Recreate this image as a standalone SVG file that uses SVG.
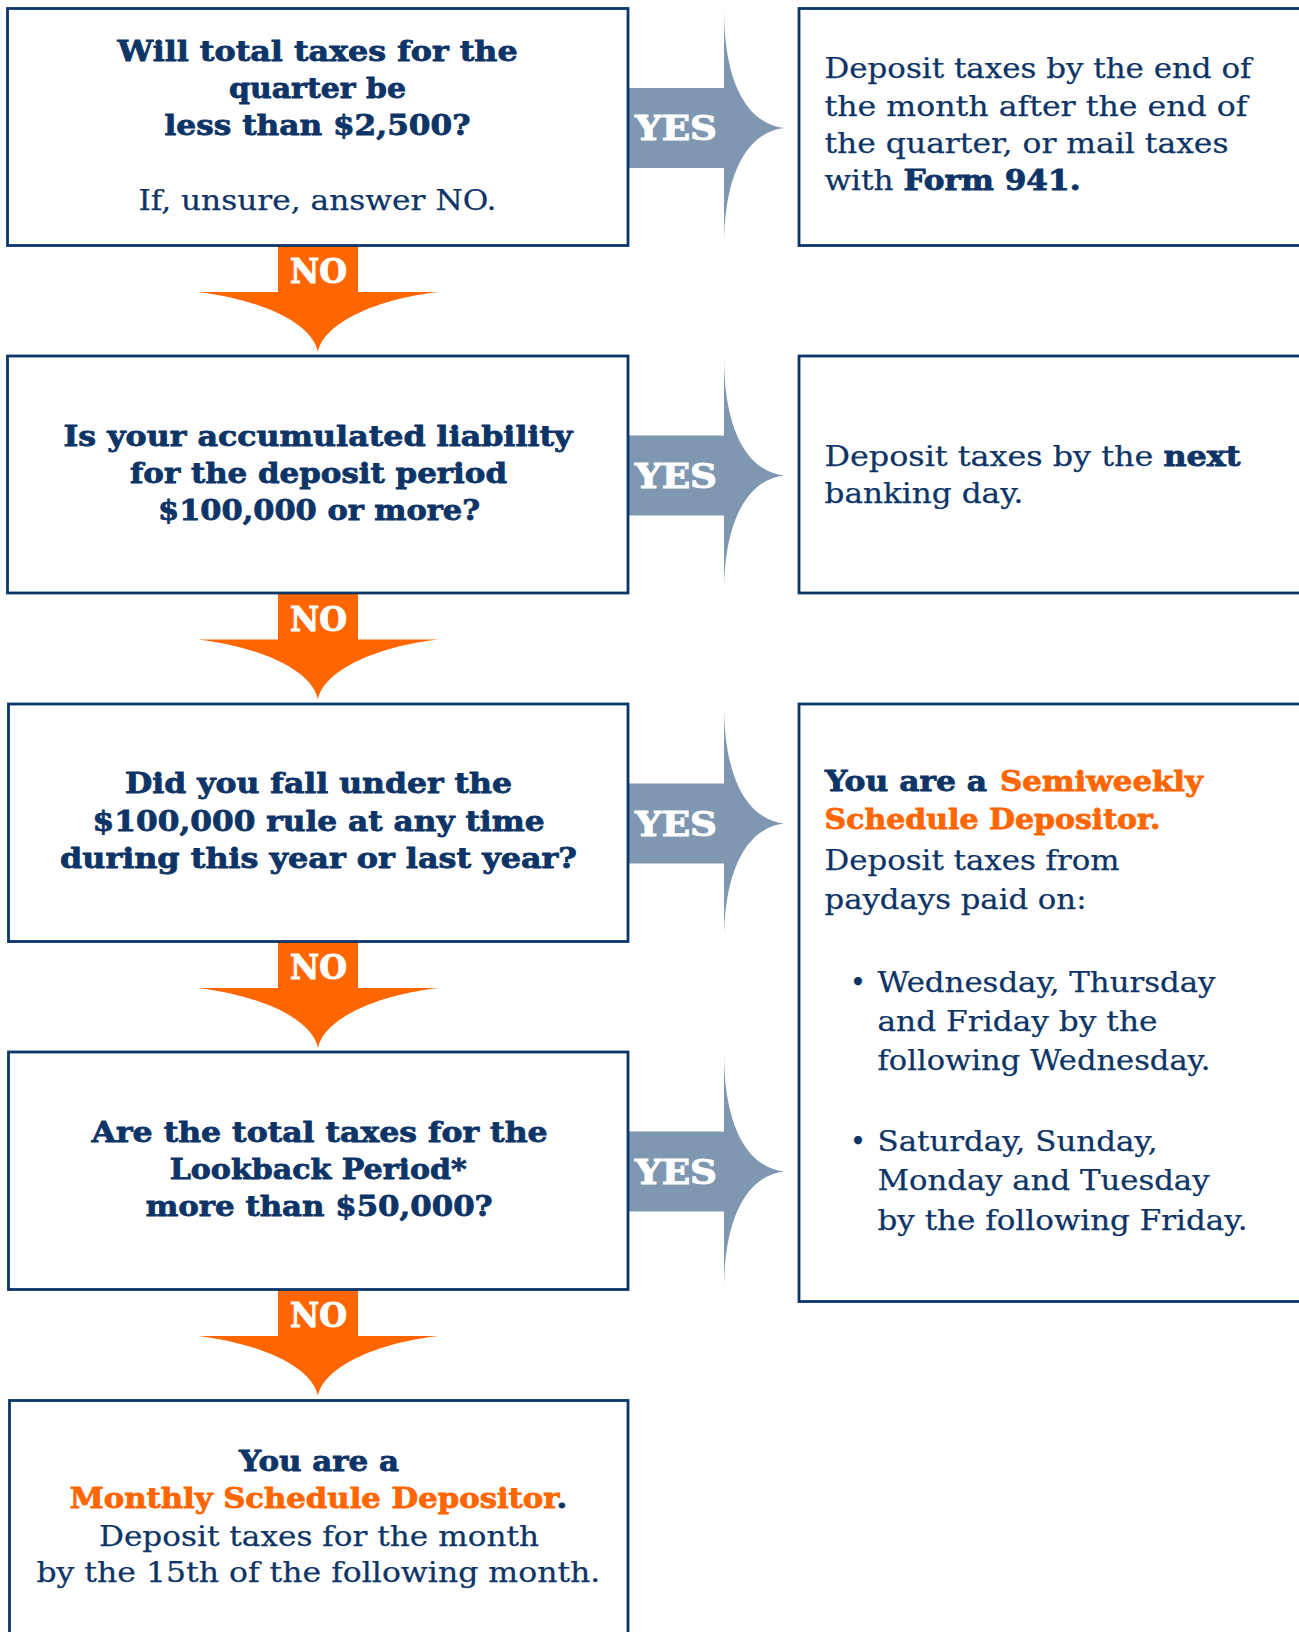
<svg xmlns="http://www.w3.org/2000/svg" xmlns:xlink="http://www.w3.org/1999/xlink" width="1299" height="1632" viewBox="0 0 1299 1632">
<style>
.box{fill:#fff;stroke:#0b3669;stroke-width:2.8}
.b{font-family:"DejaVu Serif",serif;font-weight:bold;font-size:28px;fill:#0d3466;stroke:#0d3466;stroke-width:0.8}
.r{font-family:"DejaVu Serif",serif;font-size:27px;fill:#0d3466;stroke:#0d3466;stroke-width:0.25}
.rb{font-weight:bold;stroke-width:0.8}
.o{fill:#ff6600;stroke:#ff6600}
.lbl{font-family:"DejaVu Serif",serif;font-weight:bold;font-size:33px;fill:#fff;stroke:#fff;stroke-width:1}
.yes{fill:#8097b1}
.no{fill:#ff6600}
</style>
<defs>
<path id="yesArrow" class="yes" d="M628,88 H724 V9 C724,84 748,124 784,128 C748,132 724,172 724,247 V168 H628 Z"/>
<path id="noArrow" class="no" d="M278,246 H358 V292 H438 C378,299 324,322 318,352 C312,322 258,299 198,292 H278 Z"/>
</defs>
<rect width="1299" height="1632" fill="#fff"/>

<g id="connectors">
  <g id="yes1"><use xlink:href="#yesArrow"/><text class="lbl" x="635" y="140" textLength="82" lengthAdjust="spacingAndGlyphs">YES</text></g>
  <g id="yes2" transform="translate(0,347.5)"><use xlink:href="#yesArrow"/><text class="lbl" x="635" y="140" textLength="82" lengthAdjust="spacingAndGlyphs">YES</text></g>
  <g id="yes3" transform="translate(0,695.5)"><use xlink:href="#yesArrow"/><text class="lbl" x="635" y="140" textLength="82" lengthAdjust="spacingAndGlyphs">YES</text></g>
  <g id="yes4" transform="translate(0,1043.5)"><use xlink:href="#yesArrow"/><text class="lbl" x="635" y="140" textLength="82" lengthAdjust="spacingAndGlyphs">YES</text></g>
  <g id="no1"><use xlink:href="#noArrow"/><text class="lbl" x="290" y="283" textLength="57" lengthAdjust="spacingAndGlyphs">NO</text></g>
  <g id="no2" transform="translate(0,347.5)"><use xlink:href="#noArrow"/><text class="lbl" x="290" y="283" textLength="57" lengthAdjust="spacingAndGlyphs">NO</text></g>
  <g id="no3" transform="translate(0,696)"><use xlink:href="#noArrow"/><text class="lbl" x="290" y="283" textLength="57" lengthAdjust="spacingAndGlyphs">NO</text></g>
  <g id="no4" transform="translate(0,1044)"><use xlink:href="#noArrow"/><text class="lbl" x="290" y="283" textLength="57" lengthAdjust="spacingAndGlyphs">NO</text></g>
</g>

<g id="q1">
  <rect class="box" x="7.5" y="8.5" width="620.5" height="237"/>
  <text class="b" x="117.6" y="60.5" textLength="400" lengthAdjust="spacingAndGlyphs">Will total taxes for the</text>
  <text class="b" x="229" y="97.5" textLength="177" lengthAdjust="spacingAndGlyphs">quarter be</text>
  <text class="b" x="164.5" y="135" textLength="306" lengthAdjust="spacingAndGlyphs">less than $2,500?</text>
  <text class="r" x="138.4" y="210" textLength="358" lengthAdjust="spacingAndGlyphs">If, unsure, answer NO.</text>
</g>

<g id="q2">
  <rect class="box" x="7.5" y="356" width="620.5" height="237"/>
  <text class="b" x="63.5" y="445.5" textLength="509" lengthAdjust="spacingAndGlyphs">Is your accumulated liability</text>
  <text class="b" x="130" y="483" textLength="377" lengthAdjust="spacingAndGlyphs">for the deposit period</text>
  <text class="b" x="158" y="520" textLength="322" lengthAdjust="spacingAndGlyphs">$100,000 or more?</text>
</g>

<g id="q3">
  <rect class="box" x="8.5" y="704" width="619.5" height="237.5"/>
  <text class="b" x="125" y="793" textLength="387" lengthAdjust="spacingAndGlyphs">Did you fall under the</text>
  <text class="b" x="92.6" y="830.5" textLength="452" lengthAdjust="spacingAndGlyphs">$100,000 rule at any time</text>
  <text class="b" x="60" y="868" textLength="517" lengthAdjust="spacingAndGlyphs">during this year or last year?</text>
</g>

<g id="q4">
  <rect class="box" x="8.5" y="1052" width="619.5" height="237.5"/>
  <text class="b" x="91.6" y="1141.5" textLength="456" lengthAdjust="spacingAndGlyphs">Are the total taxes for the</text>
  <text class="b" x="169.7" y="1179" textLength="297" lengthAdjust="spacingAndGlyphs">Lookback Period*</text>
  <text class="b" x="145.7" y="1216" textLength="347" lengthAdjust="spacingAndGlyphs">more than $50,000?</text>
</g>

<g id="monthly">
  <rect class="box" x="9.5" y="1400.5" width="618.5" height="260"/>
  <text class="b" x="239" y="1471" textLength="160" lengthAdjust="spacingAndGlyphs">You are a</text>
  <text class="b" x="69.7" y="1508" textLength="497.6" lengthAdjust="spacingAndGlyphs"><tspan class="o">Monthly Schedule Depositor</tspan>.</text>
  <text class="r" x="99" y="1546" textLength="440" lengthAdjust="spacingAndGlyphs">Deposit taxes for the month</text>
  <text class="r" x="36.4" y="1582" textLength="564" lengthAdjust="spacingAndGlyphs">by the 15th of the following month.</text>
</g>

<g id="a1">
  <rect class="box" x="799" y="8.5" width="520" height="237"/>
  <text class="r" x="824.5" y="78" textLength="427" lengthAdjust="spacingAndGlyphs">Deposit taxes by the end of</text>
  <text class="r" x="824.5" y="115.5" textLength="423" lengthAdjust="spacingAndGlyphs">the month after the end of</text>
  <text class="r" x="824.5" y="153" textLength="404" lengthAdjust="spacingAndGlyphs">the quarter, or mail taxes</text>
  <text class="r" x="824.5" y="189.5" textLength="256" lengthAdjust="spacingAndGlyphs">with <tspan class="rb">Form 941.</tspan></text>
</g>

<g id="a2">
  <rect class="box" x="799" y="356" width="520" height="237"/>
  <text class="r" x="824.5" y="465.5" textLength="416" lengthAdjust="spacingAndGlyphs">Deposit taxes by the <tspan class="rb">next</tspan></text>
  <text class="r" x="824.5" y="502.5" textLength="199" lengthAdjust="spacingAndGlyphs">banking day.</text>
</g>

<g id="semiweekly">
  <rect class="box" x="799" y="704" width="520" height="597.5"/>
  <text class="b" x="825" y="790.5" textLength="162" lengthAdjust="spacingAndGlyphs">You are a</text>
  <text class="b o" x="1000" y="790.5" textLength="203" lengthAdjust="spacingAndGlyphs">Semiweekly</text>
  <text class="b o" x="824.5" y="829" textLength="336" lengthAdjust="spacingAndGlyphs">Schedule Depositor.</text>
  <text class="r" x="824.5" y="870" textLength="295" lengthAdjust="spacingAndGlyphs">Deposit taxes from</text>
  <text class="r" x="824.5" y="909" textLength="262" lengthAdjust="spacingAndGlyphs">paydays paid on:</text>
  <text class="r" x="858" y="992" text-anchor="middle">•</text>
  <text class="r" x="877.5" y="992" textLength="338" lengthAdjust="spacingAndGlyphs">Wednesday, Thursday</text>
  <text class="r" x="877.5" y="1031" textLength="280" lengthAdjust="spacingAndGlyphs">and Friday by the</text>
  <text class="r" x="877.5" y="1070" textLength="333" lengthAdjust="spacingAndGlyphs">following Wednesday.</text>
  <text class="r" x="858" y="1151" text-anchor="middle">•</text>
  <text class="r" x="877.5" y="1151" textLength="280" lengthAdjust="spacingAndGlyphs">Saturday, Sunday,</text>
  <text class="r" x="877.5" y="1190" textLength="332" lengthAdjust="spacingAndGlyphs">Monday and Tuesday</text>
  <text class="r" x="877.5" y="1230" textLength="370" lengthAdjust="spacingAndGlyphs">by the following Friday.</text>
</g>
</svg>
